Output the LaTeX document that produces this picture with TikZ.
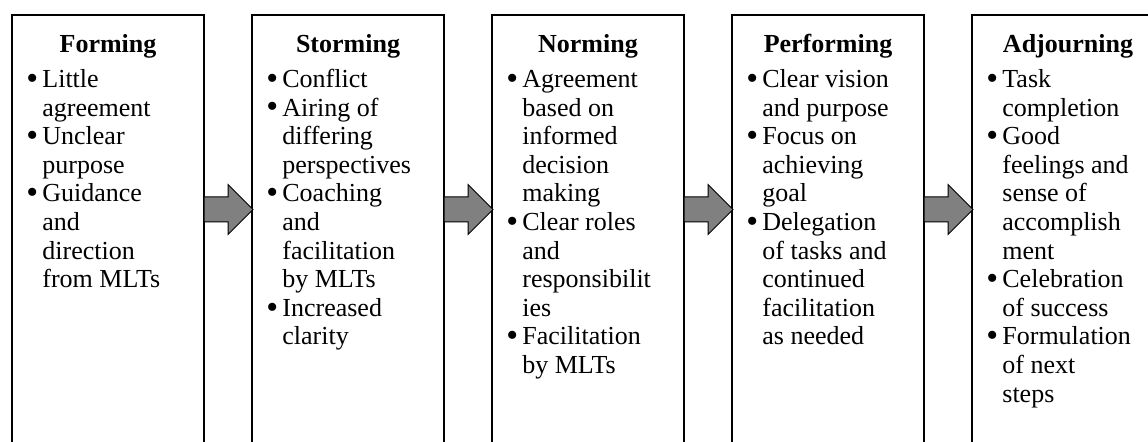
\documentclass[tikz,border=0pt]{standalone}
\usepackage{fontspec}
\usepackage{graphicx}
\setmainfont{Liberation Serif}
\usetikzlibrary{calc}

% list lines: a bulleted first line, or an indented continuation line
\newcommand\stdot{\smash{\raisebox{-0.07em}{\scalebox{1.3}{\textbullet}}}}
\newcommand\stbul[1]{\hbox{\makebox[7.5pt][l]{\kern-0.5pt\stdot}#1}}
\newcommand\stcont[1]{\hbox{\hspace*{7.5pt}#1}}
\newcommand\stlist[1]{\vtop{\baselineskip=14.3pt\lineskiplimit=-20pt #1}}

\definecolor{arrowgray}{RGB}{128,128,128}

\begin{document}
\begin{tikzpicture}[x=0.5pt,y=-0.5pt,
  stagebox/.style={draw, line width=1pt, minimum width=96pt, minimum height=240pt,
    anchor=north west, inner sep=0pt, outer sep=0pt},
  stagetitle/.style={font=\fontsize{13}{14.3}\selectfont\bfseries, anchor=base, inner sep=0pt},
  stagetext/.style={font=\fontsize{13}{14.3}\selectfont, anchor=base west, inner sep=0pt},
  blockarrow/.style={draw=black, line width=0.5pt, fill=arrowgray, line join=miter}
]
\useasboundingbox (0,0) rectangle (1148,442);
\clip (0,0) rectangle (1148,442);

% stage boxes (open at the bottom edge)
\node[stagebox] (forming) at (12,15) {};
\node[stagebox] (storming) at (252,15) {};
\node[stagebox] (norming) at (492,15) {};
\node[stagebox] (performing) at (732,15) {};
\node[stagebox, minimum width=110pt] (adjourning) at (972,15) {};

% block arrows between consecutive stages
\foreach \a in {forming,storming,norming,performing}{
  \draw[blockarrow] ($(\a.north east)+(0,194.5)$) ++(0,-12.5) -- ++(24,0) -- ++(0,-12.5)
    -- ++(25,25) -- ++(-25,25) -- ++(0,-12.5) -- ++(-24,0) -- cycle;
}

% titles
\node[stagetitle] (forming-t) at ($(forming.north west)+(96,38)$) {Forming};
\node[stagetitle] (storming-t) at ($(storming.north west)+(96,38)$) {Storming};
\node[stagetitle] (norming-t) at ($(norming.north west)+(96,38)$) {Norming};
\node[stagetitle] (performing-t) at ($(performing.north west)+(96,38)$) {Performing};
\node[stagetitle] (adjourning-t) at ($(adjourning.north west)+(96,38)$) {Adjourning};

% bullet lists
\node[stagetext] (forming-l) at ($(forming.north west)+(15,72.5)$) {\stlist{%
  \stbul{Little}\stcont{agreement}%
  \stbul{Unclear}\stcont{purpose}%
  \stbul{Guidance}\stcont{and}\stcont{direction}\stcont{from MLTs}}};

\node[stagetext] (storming-l) at ($(storming.north west)+(15,72.5)$) {\stlist{%
  \stbul{Conflict}%
  \stbul{Airing of}\stcont{differing}\stcont{perspectives}%
  \stbul{Coaching}\stcont{and}\stcont{facilitation}\stcont{by MLTs}%
  \stbul{Increased}\stcont{clarity}}};

\node[stagetext] (norming-l) at ($(norming.north west)+(15,72.5)$) {\stlist{%
  \stbul{Agreement}\stcont{based on}\stcont{informed}\stcont{decision}\stcont{making}%
  \stbul{Clear roles}\stcont{and}\stcont{responsibilit}\stcont{ies}%
  \stbul{Facilitation}\stcont{by MLTs}}};

\node[stagetext] (performing-l) at ($(performing.north west)+(15,72.5)$) {\stlist{%
  \stbul{Clear vision}\stcont{and purpose}%
  \stbul{Focus on}\stcont{achieving}\stcont{goal}%
  \stbul{Delegation}\stcont{of tasks and}\stcont{continued}\stcont{facilitation}\stcont{as needed}}};

\node[stagetext] (adjourning-l) at ($(adjourning.north west)+(15,72.5)$) {\stlist{%
  \stbul{Task}\stcont{completion}%
  \stbul{Good}\stcont{feelings and}\stcont{sense of}\stcont{accomplish}\stcont{ment}%
  \stbul{Celebration}\stcont{of success}%
  \stbul{Formulation}\stcont{of next}\stcont{steps}}};
\end{tikzpicture}
\end{document}
